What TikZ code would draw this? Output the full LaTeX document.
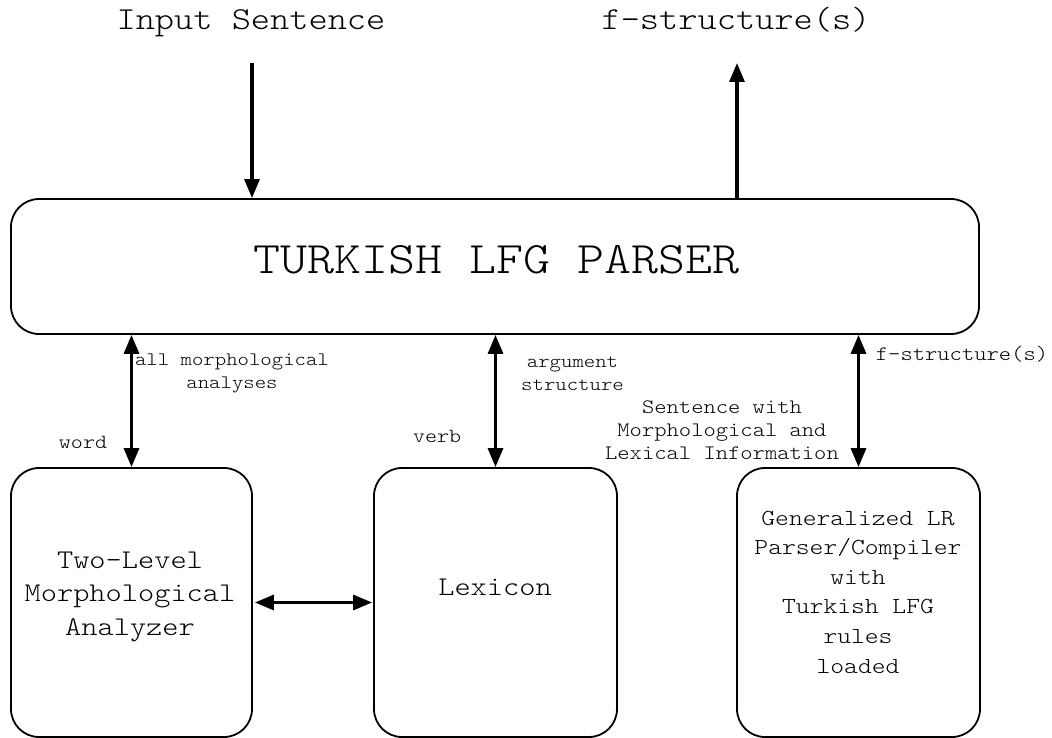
\documentclass[tikz,border=0pt]{standalone}
\usepackage{fontspec}
% a light serif typewriter face, widened to Courier-like pitch
\setmainfont{Latin Modern Mono Light}[FakeStretch=1.143]
\usetikzlibrary{arrows.meta}
\tikzset{
  box/.style={draw, line width=1.8pt, rounded corners=28pt, inner sep=0pt},
  tip/.tip={Triangle[length=19pt,width=15pt]},
  conn/.style={line width=3.2pt, -tip},
  biconn/.style={line width=3.2pt, tip-tip},
  lbl/.style={inner sep=0pt, align=center, anchor=base},
}
\begin{document}
\begin{tikzpicture}[x=1pt,y=-1pt]
\useasboundingbox (0,0) rectangle (1052,738);

% modules
\node[box, minimum width=968pt, minimum height=135pt] (parser) at (495,266.5) {};
\node[box, minimum width=241pt, minimum height=269pt] (morph) at (131.5,602.5) {};
\node[box, minimum width=243pt, minimum height=269pt] (lex) at (495.5,602.5) {};
\node[box, minimum width=243pt, minimum height=269pt] (glr) at (858.5,602.5) {};

% module captions
\node[lbl, font=\fontsize{45}{54}\selectfont] (parserT) at (496.5,273) {TURKISH LFG PARSER};
\node[lbl, font=\fontsize{27}{33.5}\selectfont] (morphT) at (130,635) {Two-Level\\Morphological\\Analyzer};
\node[lbl, font=\fontsize{27}{33.5}\selectfont] (lexT) at (495,595) {Lexicon};
\node[lbl, font=\fontsize{23}{29.6}\selectfont] (glrT) at (858,673) {Generalized LR\\Parser/Compiler\\with\\Turkish LFG\\rules\\loaded};

% input and output
\node[lbl, font=\fontsize{32}{38}\selectfont] (insent) at (251,30) {Input Sentence};
\node[lbl, font=\fontsize{32}{38}\selectfont] (fout) at (736,30) {f-structure(s)};
\coordinate (inTop) at (252,63);
\coordinate (outTop) at (737,63);
\draw[conn] (inTop) -- (inTop |- parser.north);
\draw[conn] (outTop |- parser.north) -- (outTop);

% links between parser and modules
\draw[biconn] (parser.south -| morph.north) -- (morph.north);
\draw[biconn] (parser.south -| lex.north) -- (lex.north);
\draw[biconn] (parser.south -| glr.north) -- (glr.north);
\draw[biconn] ([xshift=2pt]morph.east) -- ([xshift=-1pt]lex.west);

% link labels
\node[lbl, font=\fontsize{19}{23}\selectfont] (allm) at (232,388) {all morphological\\analyses};
\node[lbl, font=\fontsize{19}{23}\selectfont] (args) at (572.5,390) {argument\\structure};
\node[lbl, font=\fontsize{20}{23}\selectfont] (wd) at (83,448) {word};
\node[lbl, font=\fontsize{20}{23}\selectfont] (vb) at (437,442) {verb};
\node[lbl, font=\fontsize{20.5}{23}\selectfont] (fs) at (962,360) {f-structure(s)};
\node[lbl, font=\fontsize{20.5}{23}\selectfont] (swm) at (722,459) {Sentence with\\Morphological and\\Lexical Information};
\end{tikzpicture}
\end{document}
